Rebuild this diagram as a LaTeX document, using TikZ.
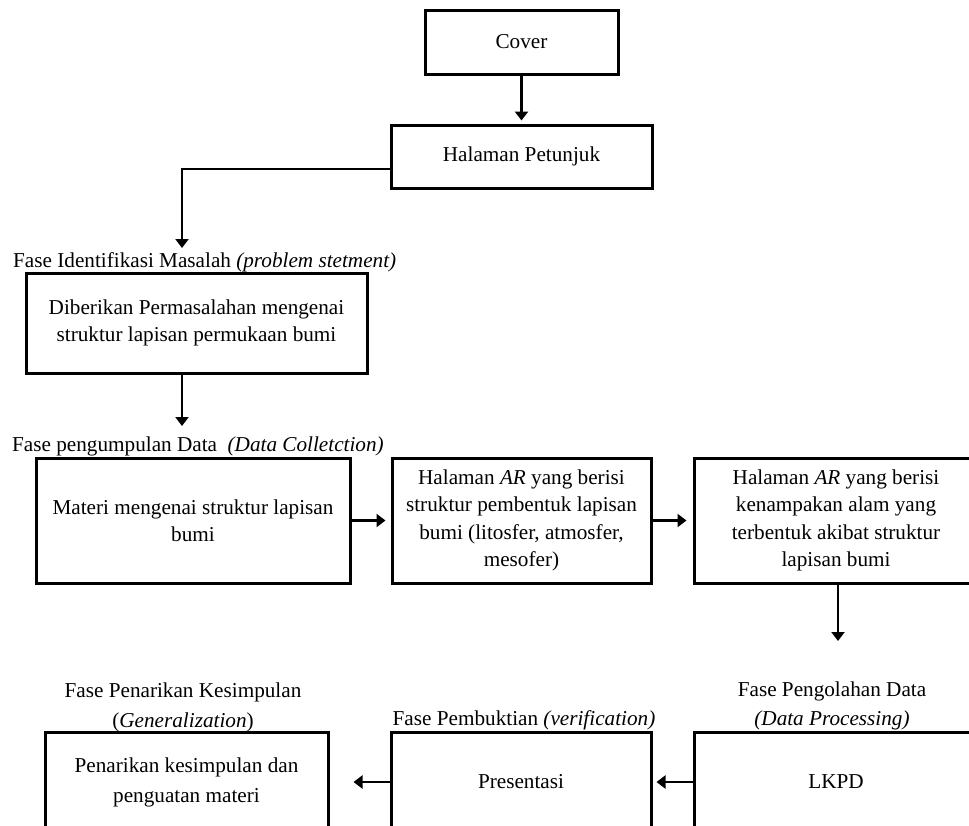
\documentclass[tikz,border=0pt]{standalone}
\usepackage{fontspec}
\setmainfont{Liberation Serif}
\usetikzlibrary{arrows.meta}
\tikzset{
  box/.style={draw, line width=3pt, align=center, inner sep=0pt},
  phase/.style={inner sep=0pt, align=center},
  arr/.style={line width=2.6pt, -{Triangle[width=13pt,length=9pt]}}
}

\begin{document}
\begin{tikzpicture}[x=1pt, y=-1pt, every node/.style={font=\fontsize{21.2}{27.5}\selectfont}]
				\useasboundingbox (0,0) rectangle (969,825);
				\clip (0,0) rectangle (969,825);
				% pembuka
				\node[box, minimum width=193pt, minimum height=64pt] (cover) at (521.5,42) {Cover};
				\node[box, minimum width=261pt, minimum height=63pt] (petunjuk) at (521.5,156.5) {Halaman Petunjuk};
				% fase identifikasi
				\node[phase, anchor=west] (identlbl) at (13,262) {Fase Identifikasi Masalah \textit{(problem stetment)}};
				\node[box, minimum width=341pt, minimum height=100pt] (masalah) at (196.5,323) {Diberikan Permasalahan mengenai\\struktur lapisan permukaan bumi};
				% fase pengumpulan data
				\node[phase, anchor=west] (colllbl) at (12,446) {Fase pengumpulan Data\ \ \textit{(Data Colletction)}};
				\node[box, minimum width=314pt, minimum height=125pt] (materi) at (193,520.5) {Materi mengenai struktur lapisan\\bumi};
				\node[box, minimum width=259pt, minimum height=125pt] (ar1) at (521.5,520.5) {Halaman \textit{AR} yang berisi\\struktur pembentuk lapisan\\bumi (litosfer, atmosfer,\\mesofer)};
				\node[box, minimum width=284pt, minimum height=125pt] (ar2) at (836,520.5) {Halaman \textit{AR} yang berisi\\kenampakan alam yang\\terbentuk akibat struktur\\lapisan bumi};
				% fase akhir
				\node[phase] (concllbl) at (183,707) {Fase Penarikan Kesimpulan\\[2.5pt](\textit{Generalization})};
				\node[phase] (veriflbl) at (524,720) {Fase Pembuktian \textit{(verification)}};
				\node[phase] (proclbl) at (832,706) {Fase Pengolahan Data\\[1pt]\textit{(Data Processing)}};
				\node[box, minimum width=283pt, minimum height=100pt] (kesimpulan) at (186.5,782) {Penarikan kesimpulan dan\\[2.5pt]penguatan materi};
				\node[box, minimum width=260pt, minimum height=100pt] (presentasi) at (521,782) {Presentasi};
				\node[box, minimum width=284pt, minimum height=100pt] (lkpd) at (836,782) {LKPD};
				% panah
				\coordinate (bend) at (182,169);
				\coordinate (identtop) at (182,248);
				\coordinate (colltop) at (182,426);
				\coordinate (proctop) at (838,641);
				\draw[arr, shorten >=3pt] (cover.south) -- (petunjuk.north);
				\draw[arr] (bend -| petunjuk.west) -- (bend) -- (identtop);
				\draw[arr] (masalah.south -| colltop) -- (colltop);
				\draw[arr, shorten >=5pt] (materi.east) -- (ar1.west);
				\draw[arr, shorten >=6pt] (ar1.east) -- (ar2.west);
				\draw[arr] (ar2.south -| proctop) -- (proctop);
				\draw[arr, shorten >=4pt] (lkpd.west) -- (presentasi.east);
				\draw[arr, shorten >=24pt] (presentasi.west) -- (kesimpulan.east);
			\end{tikzpicture}
\end{document}
